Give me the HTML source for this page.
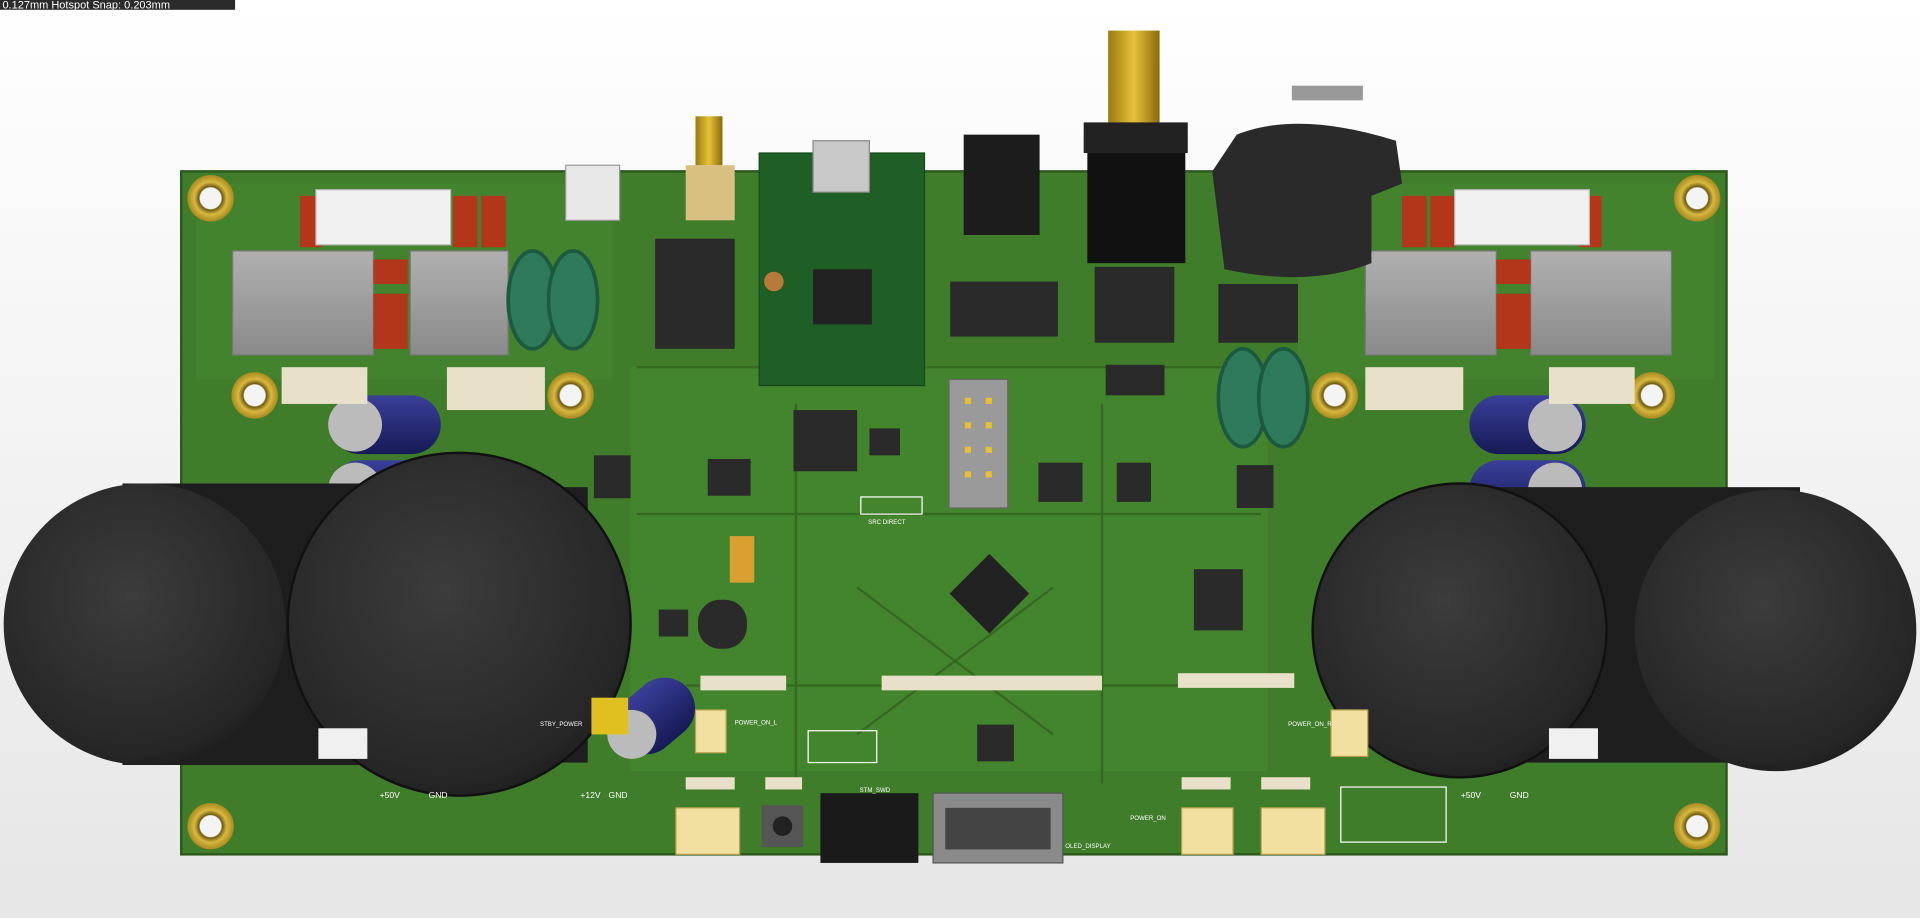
<!DOCTYPE html>
<html><head><meta charset="utf-8"><style>
html,body{margin:0;padding:0;width:1920px;height:918px;overflow:hidden;background:#f3f3f3}
svg{display:block}
</style></head><body>
<svg width="1920" height="918" viewBox="0 0 1568 750" preserveAspectRatio="none" xmlns="http://www.w3.org/2000/svg">
<defs>
<linearGradient id="bg" x1="0" y1="0" x2="0" y2="1"><stop offset="0" stop-color="#ffffff"/><stop offset="1" stop-color="#e6e6e6"/></linearGradient>
<radialGradient id="cap" cx="0.45" cy="0.4" r="0.7"><stop offset="0" stop-color="#3c3c3c"/><stop offset="0.8" stop-color="#262626"/><stop offset="1" stop-color="#151515"/></radialGradient>
<linearGradient id="blue" x1="0" y1="0" x2="0" y2="1"><stop offset="0" stop-color="#3a3f9a"/><stop offset="1" stop-color="#161a55"/></linearGradient>
<linearGradient id="gold" x1="0" y1="0" x2="1" y2="0"><stop offset="0" stop-color="#9a7a10"/><stop offset="0.5" stop-color="#e6c23a"/><stop offset="1" stop-color="#8a6a0a"/></linearGradient>
<linearGradient id="gray" x1="0" y1="0" x2="0" y2="1"><stop offset="0" stop-color="#b0b0b0"/><stop offset="1" stop-color="#8a8a8a"/></linearGradient>
<radialGradient id="hole" cx="0.5" cy="0.5" r="0.5"><stop offset="0.45" stop-color="#f4f4f4"/><stop offset="0.5" stop-color="#6e5a10"/><stop offset="0.7" stop-color="#d8b840"/><stop offset="1" stop-color="#a88a20"/></radialGradient>
</defs>
<rect width="1568" height="750" fill="url(#bg)"/>
<rect x="0" y="0" width="192" height="8" fill="#2b2b2b"/>
<text x="2" y="7" font-family="Liberation Sans, sans-serif" font-size="9" fill="#fff">0.127mm Hotspot Snap: 0.203mm</text>
<!-- board -->
<rect x="148" y="140" width="1262" height="558" fill="#3f7d2a" stroke="#2b5a1c" stroke-width="2"/>
<rect x="515" y="300" width="520" height="330" fill="#468a30" opacity="0.6"/>
<rect x="160" y="150" width="340" height="160" fill="#4a8a32" opacity="0.5"/>
<rect x="1060" y="150" width="340" height="160" fill="#4a8a32" opacity="0.5"/>
<g stroke="#35691f" stroke-width="2" fill="none">
<path d="M520 300 L1030 300 M520 420 L1030 420 M560 560 L1000 560 M650 330 L650 640 M900 330 L900 640 M700 480 L860 600 M860 480 L700 600"/>
</g>
<!-- mounting holes -->
<g fill="url(#hole)">
<circle cx="172" cy="162" r="19"/><circle cx="1386" cy="162" r="19"/>
<circle cx="208" cy="323" r="19"/><circle cx="466" cy="323" r="19"/>
<circle cx="1090" cy="323" r="19"/><circle cx="1349" cy="323" r="19"/>
<circle cx="172" cy="675" r="19"/><circle cx="1386" cy="675" r="19"/>
</g>
<!-- gray inductors -->
<g fill="url(#gray)" stroke="#777">
<rect x="190" y="205" width="115" height="85"/><rect x="335" y="205" width="80" height="85"/>
<rect x="1115" y="205" width="107" height="85"/><rect x="1250" y="205" width="115" height="85"/>
</g>
<!-- red caps -->
<g fill="#b3361a">
<rect x="245" y="160" width="18" height="42"/><rect x="370" y="160" width="20" height="42"/><rect x="393" y="160" width="20" height="42"/>
<rect x="305" y="212" width="28" height="20"/><rect x="305" y="240" width="28" height="45"/>
<rect x="1145" y="160" width="20" height="42"/><rect x="1168" y="160" width="20" height="42"/><rect x="1290" y="160" width="18" height="42"/>
<rect x="1222" y="212" width="28" height="20"/><rect x="1222" y="240" width="28" height="45"/>
</g>
<!-- white connectors top -->
<rect x="258" y="155" width="110" height="45" fill="#f0f0f0" stroke="#bbb"/>
<rect x="1188" y="155" width="110" height="45" fill="#f0f0f0" stroke="#bbb"/>
<!-- green toroids -->
<g fill="#2f7a5a" stroke="#1c5a40" stroke-width="3">
<ellipse cx="435" cy="245" rx="20" ry="40"/><ellipse cx="468" cy="245" rx="20" ry="40"/>
<ellipse cx="1015" cy="325" rx="20" ry="40"/><ellipse cx="1048" cy="325" rx="20" ry="40"/>
</g>
<!-- chips -->
<g fill="#2a2a2a">
<rect x="535" y="195" width="65" height="90"/>
<rect x="776" y="230" width="88" height="45"/>
<rect x="648" y="335" width="52" height="50"/>
<rect x="903" y="298" width="48" height="25"/>
<rect x="848" y="378" width="36" height="32"/><rect x="912" y="378" width="28" height="32"/>
<rect x="578" y="375" width="35" height="30"/>
<rect x="975" y="465" width="40" height="50"/>
<rect x="798" y="592" width="30" height="30"/>
<rect x="710" y="350" width="25" height="22"/>
<rect x="570" y="490" width="40" height="40" rx="18"/>
<rect x="538" y="498" width="24" height="22"/>
<rect x="485" y="372" width="30" height="35"/><rect x="1010" y="380" width="30" height="35"/>
<rect x="894" y="218" width="65" height="62"/><rect x="995" y="232" width="65" height="48"/>
</g>
<rect x="785" y="462" width="46" height="46" fill="#222" transform="rotate(45 808 485)"/>
<!-- USB-C module -->
<rect x="620" y="125" width="135" height="190" fill="#1f5e25" stroke="#154a1a"/>
<rect x="664" y="115" width="46" height="42" fill="#c8c8c8" stroke="#888"/>
<rect x="664" y="220" width="48" height="45" fill="#222"/>
<circle cx="632" cy="230" r="8" fill="#b87a3a"/>
<!-- small USB top-left -->
<rect x="462" y="135" width="44" height="45" fill="#e8e8e8" stroke="#999"/>
<!-- SMA -->
<rect x="568" y="95" width="22" height="40" fill="url(#gold)"/>
<rect x="560" y="135" width="40" height="45" fill="#d8c080"/>
<!-- black jack -->
<rect x="787" y="110" width="62" height="82" fill="#1c1c1c"/>
<!-- RCA -->
<rect x="905" y="25" width="42" height="80" fill="url(#gold)"/>
<rect x="885" y="100" width="85" height="25" fill="#222"/>
<rect x="888" y="125" width="80" height="90" fill="#111"/>
<!-- XLR -->
<rect x="1055" y="70" width="58" height="12" fill="#999"/>
<path d="M1010 110 Q1060 90 1140 115 L1145 150 L1120 160 L1120 215 Q1070 235 1000 220 L990 140 Z" fill="#2a2a2a"/>
<!-- gray header -->
<rect x="775" y="310" width="48" height="105" fill="#9a9a9a" stroke="#666"/>
<g fill="#e8c030"><rect x="788" y="325" width="5" height="5"/><rect x="805" y="325" width="5" height="5"/><rect x="788" y="345" width="5" height="5"/><rect x="805" y="345" width="5" height="5"/><rect x="788" y="365" width="5" height="5"/><rect x="805" y="365" width="5" height="5"/><rect x="788" y="385" width="5" height="5"/><rect x="805" y="385" width="5" height="5"/></g>
<!-- blue electrolytics -->
<g>
<rect x="270" y="323" width="90" height="48" rx="24" fill="url(#blue)"/><circle cx="290" cy="347" r="22" fill="#bbb"/>
<rect x="270" y="376" width="90" height="48" rx="24" fill="url(#blue)"/><circle cx="290" cy="400" r="22" fill="#bbb"/>
<rect x="1200" y="323" width="95" height="48" rx="24" fill="url(#blue)"/><circle cx="1270" cy="347" r="22" fill="#bbb"/>
<rect x="1200" y="376" width="95" height="48" rx="24" fill="url(#blue)"/><circle cx="1270" cy="400" r="22" fill="#bbb"/>
<rect x="500" y="560" width="70" height="50" rx="25" fill="url(#blue)" transform="rotate(-40 535 585)"/><circle cx="516" cy="600" r="20" fill="#bbb"/>
</g>
<!-- big caps left -->
<rect x="100" y="395" width="280" height="230" fill="#1e1e1e"/>
<circle cx="118" cy="510" r="115" fill="url(#cap)"/>
<rect x="360" y="398" width="120" height="225" fill="#1e1e1e"/>
<circle cx="375" cy="510" r="140" fill="url(#cap)" stroke="#111" stroke-width="2"/>
<!-- big caps right -->
<rect x="1180" y="398" width="290" height="225" fill="#1e1e1e"/>
<circle cx="1450" cy="515" r="115" fill="url(#cap)"/>
<circle cx="1192" cy="515" r="120" fill="url(#cap)" stroke="#111" stroke-width="2"/>
<!-- tan / yellow parts -->
<rect x="596" y="438" width="20" height="38" fill="#d7a030"/>
<rect x="483" y="570" width="30" height="30" fill="#e0c020"/>
<!-- small passives scatter -->
<g fill="#e8e0c8">
<rect x="720" y="552" width="180" height="12"/><rect x="962" y="550" width="95" height="12"/><rect x="572" y="552" width="70" height="12"/>
<rect x="560" y="635" width="40" height="10"/><rect x="625" y="635" width="30" height="10"/><rect x="965" y="635" width="40" height="10"/><rect x="1030" y="635" width="40" height="10"/>
<rect x="230" y="300" width="70" height="30"/><rect x="365" y="300" width="80" height="35"/><rect x="1115" y="300" width="80" height="35"/><rect x="1265" y="300" width="70" height="30"/>
</g>
<!-- bottom connectors -->
<g fill="#f2e0a0" stroke="#b8a050">
<rect x="552" y="660" width="52" height="38"/><rect x="965" y="660" width="42" height="38"/><rect x="1030" y="660" width="52" height="38"/>
<rect x="568" y="580" width="25" height="35"/><rect x="1087" y="580" width="30" height="38"/>
</g>
<rect x="622" y="658" width="34" height="34" fill="#555"/><circle cx="639" cy="675" r="8" fill="#222"/>
<rect x="670" y="648" width="80" height="57" fill="#1a1a1a"/>
<rect x="762" y="648" width="106" height="57" fill="#8a8a8a" stroke="#555"/>
<rect x="772" y="660" width="86" height="34" fill="#444"/>
<rect x="260" y="595" width="40" height="25" fill="#f0f0f0"/><rect x="1265" y="595" width="40" height="25" fill="#f0f0f0"/>
<!-- silkscreen labels -->
<g font-family="Liberation Sans, sans-serif" font-size="7" fill="#fff">
<text x="310" y="652">+50V</text><text x="350" y="652">GND</text>
<text x="474" y="652">+12V</text><text x="497" y="652">GND</text>
<text x="1193" y="652">+50V</text><text x="1233" y="652">GND</text>
<text x="600" y="592" font-size="5">POWER_ON_L</text><text x="1052" y="593" font-size="5">POWER_ON_R</text>
<text x="441" y="593" font-size="5">STBY_POWER</text><text x="923" y="670" font-size="5">POWER_ON</text>
<text x="870" y="693" font-size="5">OLED_DISPLAY</text><text x="702" y="647" font-size="5">STM_SWD</text>
<text x="709" y="428" font-size="5">SRC   DIRECT</text>
</g>
<rect x="1095" y="643" width="86" height="45" fill="none" stroke="#fff"/>
<rect x="660" y="597" width="56" height="26" fill="none" stroke="#fff"/>
<rect x="703" y="406" width="50" height="14" fill="none" stroke="#fff"/>
</svg>
</body></html>
